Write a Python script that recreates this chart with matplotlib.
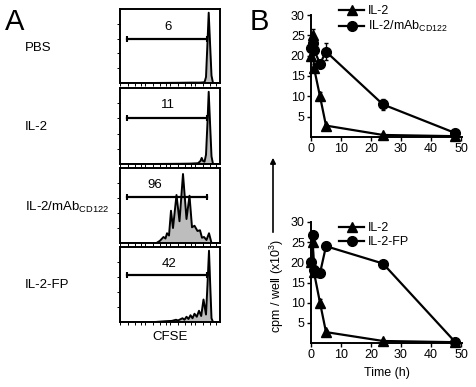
import numpy as np
import matplotlib
matplotlib.use("Agg")
import matplotlib.pyplot as plt
from matplotlib.lines import Line2D

plt.rcParams['font.family'] = ['Liberation Sans', 'DejaVu Sans']

# ---- panel A: CFSE histograms (channel, % of max) ----
row_labels = ["PBS", "IL-2", "IL-2/mAb$_{\\mathregular{CD122}}$", "IL-2-FP"]
gate_pct = ["6", "11", "96", "42"]

pbs_ch = [0, 300, 600, 700, 800, 845, 860, 875, 887, 900, 915, 930, 1000]
pbs_h  = [0, 0, 0.3, 0.5, 0.5, 1, 8, 55, 95, 55, 10, 0, 0]

il2_ch = [0, 300, 600, 700, 780, 805, 817, 830, 845, 860, 875, 887, 900, 915, 930, 1000]
il2_h  = [0, 0, 0.3, 0.5, 1, 4, 8, 4, 3, 12, 55, 95, 55, 10, 0, 0]

mab_ch = [0, 365, 400, 435, 455, 470, 490, 510, 530, 565, 595, 630, 665, 695,
          720, 745, 775, 800, 820, 840, 865, 890, 915, 1000]
mab_h  = [0, 0, 3, 8, 6, 13, 10, 43, 20, 64, 29, 92, 32, 63,
          21, 23, 16, 17, 7, 8, 4, 13, 0, 0]

fp_ch = [0, 350, 450, 520, 560, 580, 610, 625, 645, 665, 685, 705, 725, 745,
         768, 790, 812, 835, 860, 875, 890, 902, 915, 930, 1000]
fp_h  = [0, 0, 1, 1.5, 3, 2, 4, 5, 3, 7, 4, 9, 5, 11,
         7, 15, 8, 30, 10, 50, 95, 50, 5, 0, 0]

hist_ch = [pbs_ch, il2_ch, mab_ch, fp_ch]
hist_h = [pbs_h, il2_h, mab_h, fp_h]
gate_lo = [67, 67, 67, 67]
gate_hi = [867, 867, 867, 867]
gate_y = [60, 61, 62, 63]
text_y = [68, 70, 70, 69]
text_x = [483, 480, 350, 493]

# ---- panel B: proliferation time course ----
time_h = [0, 0.5, 1, 3, 5, 24, 48]
il2_top = [20, 25, 17, 10, 2.8, 0.5, 0.2]
il2_top_err = [0.5, 1.5, 1, 1, 0.5, 0.3, 0.2]
mab_top = [22, 23, 21.5, 18, 21, 8, 1]
mab_top_err = [1, 1, 1, 0.8, 2, 1.3, 0.5]
il2_bot = [20, 25, 17.5, 10, 2.7, 0.5, 0.2]
il2_bot_err = [0.5, 1, 1, 0.8, 0.5, 0.3, 0.2]
fp_bot = [20, 26.8, 18, 17.3, 24, 19.7, 0.3]
fp_bot_err = [0.5, 0.6, 0.5, 0.5, 1, 0.4, 0.3]

W, H = 477, 387
fig = plt.figure(figsize=(W / 100, H / 100), dpi=100)

def frac(x0, y0, x1, y1):
    return [x0 / W, 1 - y1 / H, (x1 - x0) / W, (y1 - y0) / H]

panel_px = [(9, 83), (88, 164), (168, 243), (247, 322)]
label_y = [48, 127, 207, 285]
minor = [d * 250 + 250 * np.log10(k) for d in range(4) for k in (1, 2, 4, 7)]

for i in range(4):
    y0, y1 = panel_px[i]
    ax = fig.add_axes(frac(120, y0, 220, y1))
    ax.fill_between(hist_ch[i], hist_h[i], color="#bdbdbd", lw=0)
    ax.plot(hist_ch[i], hist_h[i], color="black", lw=1.4)
    ax.plot([gate_lo[i], gate_hi[i]], [gate_y[i], gate_y[i]], color="black",
            lw=1.6, marker="|", ms=5, mew=1.5)
    ax.text(text_x[i], text_y[i], gate_pct[i], ha="center", va="bottom", fontsize=9.5)
    ax.set_xlim(0, 1000)
    ax.set_ylim(0, 100)
    ax.set_yticks([20, 40, 60, 80])
    ax.set_xticks(minor)
    ax.tick_params(length=2, width=0.7, labelleft=False, labelbottom=False)
    for s in ax.spines.values():
        s.set_linewidth(1.4)
    fig.text(25 / W, 1 - label_y[i] / H, row_labels[i], ha="left", va="center", fontsize=9.5)

fig.text(170 / W, 1 - 337 / H, "CFSE", ha="center", va="center", fontsize=9.5)
fig.text(5 / W, 1 - 22 / H, "A", ha="left", va="center", fontsize=21)
fig.text(250 / W, 1 - 22 / H, "B", ha="left", va="center", fontsize=21)

def time_panel(rect, ya, ea, yb, eb, lab_a, lab_b, leg_y):
    ax = fig.add_axes(rect)
    kw = dict(color="black", lw=1.6, capsize=1.5, elinewidth=1, clip_on=False)
    ax.errorbar(time_h, ya, yerr=ea, marker="^", ms=6.5, label=lab_a, **kw)
    ax.errorbar(time_h, yb, yerr=eb, marker="o", ms=7, label=lab_b, **kw)
    ax.set_xlim(0, 50.5)
    ax.set_ylim(0, 30)
    ax.set_xticks([0, 10, 20, 30, 40, 50])
    ax.set_yticks([5, 10, 15, 20, 25, 30])
    ax.spines["top"].set_visible(False)
    ax.spines["right"].set_visible(False)
    for s in ax.spines.values():
        s.set_linewidth(1.4)
    ax.tick_params(length=3, width=1, labelsize=9, pad=1.5)
    handles = [Line2D([], [], color="black", lw=1.6, marker="^", ms=6.5),
               Line2D([], [], color="black", lw=1.6, marker="o", ms=7)]
    ax.legend(handles, [lab_a, lab_b], loc="upper left",
              bbox_to_anchor=(28 / 151.5, leg_y), frameon=False, fontsize=9,
              handlelength=2, handletextpad=0.3, labelspacing=0.15,
              borderaxespad=0, borderpad=0)
    return ax

time_panel(frac(311, 15, 462.5, 137), il2_top, il2_top_err, mab_top, mab_top_err,
           "IL-2", "IL-2/mAb$_{\\mathregular{CD122}}$", 1.08)
ax_b = time_panel(frac(311, 222, 462.5, 343), il2_bot, il2_bot_err, fp_bot, fp_bot_err,
                  "IL-2", "IL-2-FP", 1.0)
ax_b.set_xlabel("Time (h)", fontsize=9, labelpad=4)

fig.text(277 / W, 1 - 286 / H, "cpm / well (x10$^{\\mathregular{3}}$)", rotation=90,
         ha="center", va="center", fontsize=9)
fig.add_artist(matplotlib.patches.FancyArrowPatch(
    (273 / W, 1 - 235 / H), (273 / W, 1 - 155 / H), transform=fig.transFigure,
    arrowstyle="-|>", mutation_scale=8, color="black", lw=1.2))

fig.savefig("out.png", dpi=100)
